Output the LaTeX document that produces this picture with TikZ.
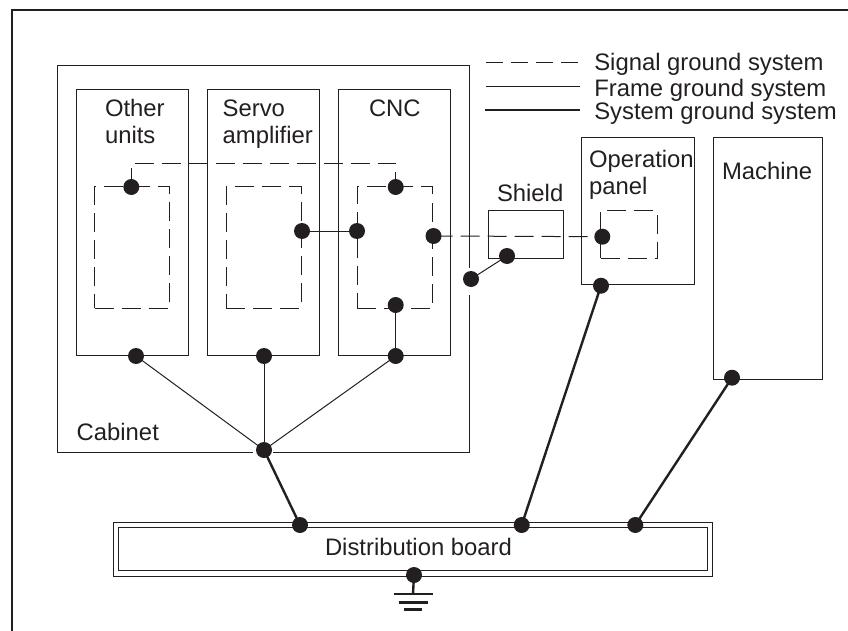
\documentclass[tikz,border=0pt]{standalone}
\usepackage{fontspec}
\setmainfont{Liberation Sans}
\usetikzlibrary{backgrounds}
\definecolor{ink}{HTML}{231F20}
\tikzset{
  x=1pt,y=-1pt,
  thinline/.style={draw=ink,line width=1pt},
  sigline/.style={draw=ink,line width=1pt,dash pattern=on 19pt off 8pt},
  keyline/.style={draw=ink,line width=1pt,dash pattern=on 16.5pt off 8.5pt},
  sysline/.style={draw=ink,line width=2.4pt},
  framebox/.style={rectangle,thinline,inner sep=0pt,outer sep=0pt},
  sigbox/.style={rectangle,sigline,inner sep=0pt,outer sep=0pt},
  dot/.style={circle,fill=ink,inner sep=0pt,minimum size=16pt},
  gapline/.style={draw=white,line width=2.5pt},
  lbl/.style={text=ink,inner sep=0pt,outer sep=0pt,anchor=base west,font=\fontsize{23.85}{26.8}\selectfont,align=left},
}
\newcommand{\bx}[6]{\node[#6,minimum width={(#4-#2)*1pt},minimum height={(#5-#3)*1pt}] (#1) at ({(#2+#4)/2},{(#3+#5)/2}) {};}
\begin{document}
\begin{tikzpicture}
\useasboundingbox (0,0) rectangle (848,631);
% dots
\node[dot] (dOtherTop) at (131.3,187) {};
\node[dot] (dCNCTop) at (395.7,187) {};
\node[dot] (dServoR) at (302,231) {};
\node[dot] (dCNCL) at (357,231) {};
\node[dot] (dCNCR) at (433.5,236) {};
\node[dot] (dCNCBot) at (395.7,305) {};
\node[dot] (dOtherB) at (136,356) {};
\node[dot] (dServoB) at (264,356) {};
\node[dot] (dCNCB) at (395.7,356) {};
\node[dot] (dHub) at (264,450) {};
\node[dot] (dB1) at (300,525) {};
\node[dot] (dB2) at (521.7,525) {};
\node[dot] (dB3) at (635.3,525) {};
\node[dot] (dMach) at (732,377.7) {};
\node[dot] (dOpB) at (601,285.7) {};
\node[dot] (dOpS) at (602.3,236.7) {};
\node[dot] (dShield) at (507,256) {};
\node[dot] (dCab) at (471,279) {};
\node[dot] (dGnd) at (414,575) {};
% labels
\node[lbl] (tOther) at (105,143.5) {Other\\units};
\node[lbl] (tServo) at (222.7,143.5) {Servo\\amplifier};
\node[lbl] (tCNC) at (369,116.7) {CNC};
\node[lbl] (tCab) at (76.7,440) {Cabinet};
\node[lbl] (tShield) at (497,201.7) {Shield};
\node[lbl] (tOp) at (589,194) {Operation\\panel};
\node[lbl] (tMach) at (722,179) {Machine};
\node[lbl] (tDist) at (325,555) {Distribution board};
\node[lbl] (tL1) at (594.3,70.7) {Signal ground system};
\node[lbl] (tL2) at (594.3,96.7) {Frame ground system};
\node[lbl] (tL3) at (594.3,120) {System ground system};
\begin{scope}[on background layer]
% outer frame (open at right and bottom)
\coordinate (fTR) at (848,10);
\coordinate (fTL) at (12,10);
\coordinate (fBL) at (12,631);
\draw[draw=ink,line width=2.4pt] (fBL) -- (fTL) -- (fTR);
% boxes
\bx{cabinet}{57}{66}{469.7}{452.3}{framebox}
\bx{other}{76}{89.7}{188}{355}{framebox}
\bx{servo}{207}{89.7}{319.5}{355}{framebox}
\bx{cnc}{338}{89.7}{450.7}{355}{framebox}
\bx{shield}{488}{210.7}{563.3}{258}{framebox}
\bx{oppanel}{581.7}{137.7}{694.3}{284}{framebox}
\bx{machine}{713}{137.7}{822}{379}{framebox}
\bx{boardO}{113.5}{522}{712.7}{576}{framebox}
\bx{boardI}{118.5}{527.5}{707.7}{570.5}{framebox}
\bx{sOther}{94.7}{187}{169.7}{308}{sigbox}
\bx{sServo}{226}{187}{301}{308}{sigbox}
\bx{sCNC}{357}{187}{432.5}{308}{sigbox}
\bx{sOp}{600.5}{210.7}{657}{258}{sigbox}
% breaks in the cabinet outline round two dots
\coordinate (gc1) at (469.7,268); \coordinate (gc2) at (469.7,295);
\coordinate (gh1) at (253,452.3); \coordinate (gh2) at (273,452.3);
\draw[gapline] (gc1) -- (gc2);
\draw[gapline] (gh1) -- (gh2);
% signal ground
\draw[sigline] (dOtherTop.center) |- (263,163.4) -| (dCNCTop.center);
\draw[sigline] (dCNCR.center) -- (dOpS.center);
% frame ground
\draw[thinline] (dServoR.center) -- (dCNCL.center);
\draw[thinline] (dCNCBot.center) -- (dCNCB.center);
\draw[thinline] (dCab.center) -- (dShield.center);
\draw[thinline] (dOtherB.center) -- (dHub.center);
\draw[thinline] (dServoB.center) -- (dHub.center);
\draw[thinline] (dCNCB.center) -- (dHub.center);
% system ground
\draw[sysline] (dHub.center) -- (dB1.center);
\draw[sysline] (dOpB.center) -- (dB2.center);
\draw[sysline] (dMach.center) -- (dB3.center);
% ground symbol
\coordinate (g1a) at (393.5,594); \coordinate (g1b) at (433,594);
\coordinate (g2a) at (398.5,602.5); \coordinate (g2b) at (427.5,602.5);
\coordinate (g3a) at (403.5,609.5); \coordinate (g3b) at (421.5,609.5);
\coordinate (gTop) at (413,594);
\draw[sysline] (dGnd.center) -- (gTop);
\draw[sysline] (g1a) -- (g1b);
\draw[sysline] (g2a) -- (g2b);
\draw[sysline] (g3a) -- (g3b);
% legend
\coordinate (l1a) at (486,62.5); \coordinate (l1b) at (580,62.5);
\coordinate (l2a) at (486,86.5); \coordinate (l2b) at (580,86.5);
\coordinate (l3a) at (485,110); \coordinate (l3b) at (580,110);
\draw[keyline] (l1a) -- (l1b);
\draw[thinline] (l2a) -- (l2b);
\draw[draw=ink,line width=2pt] (l3a) -- (l3b);
\end{scope}
\end{tikzpicture}
\end{document}
